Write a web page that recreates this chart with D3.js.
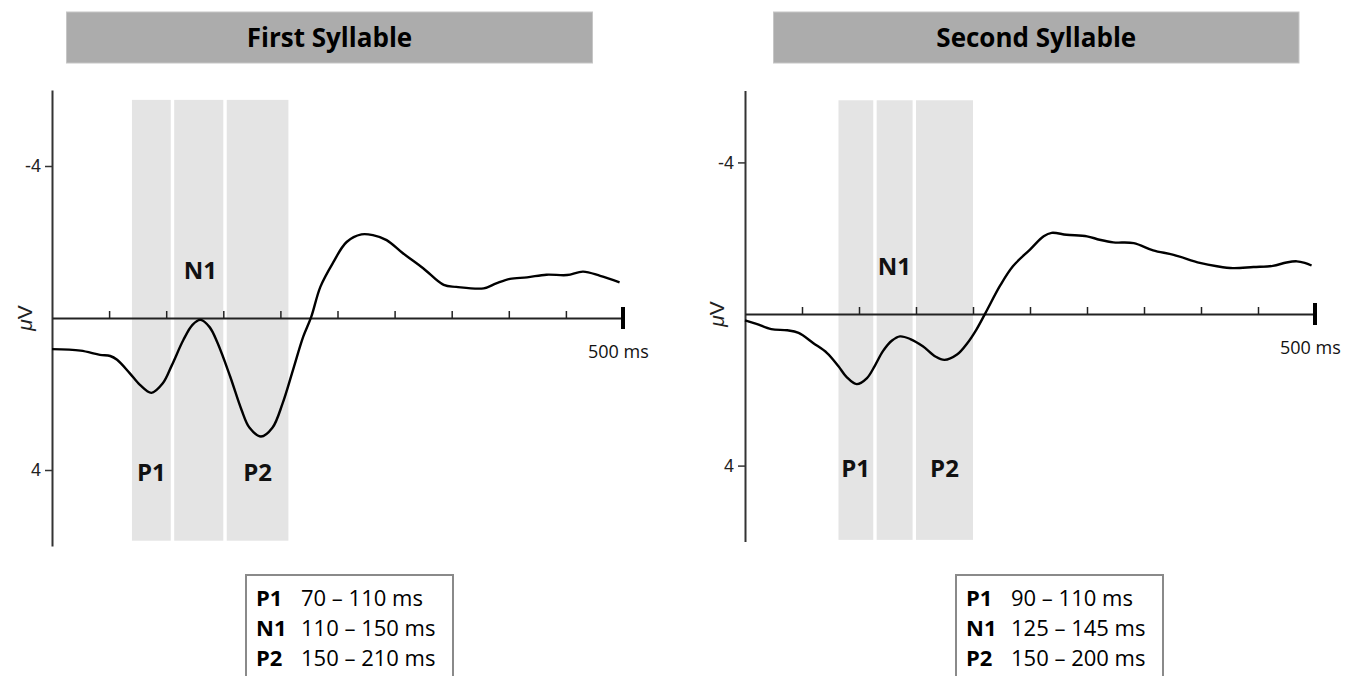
<!DOCTYPE html>
<html>
<head>
<meta charset="utf-8">
<script src="https://cdn.jsdelivr.net/npm/d3@7"></script>
<style>
  body { margin: 0; background: #fff; }
  svg { display: block; font-family: 'Open Sans', sans-serif; }
</style>
</head>
<body>
<script>
// ERP waveforms (ms, µV; positive is drawn downward)
const firstTime = [0, 25, 42, 51, 57, 68, 77, 87, 97, 105, 115, 123, 130, 138, 145, 156, 166, 173, 183, 193, 202, 211, 220, 227, 235, 246, 258, 271, 281, 293, 307, 325, 343, 354, 378, 389, 401, 416, 433, 451, 465, 480, 497]
const firstAmp = [0.82, 0.86, 0.97, 1.0, 1.1, 1.45, 1.76, 1.97, 1.72, 1.24, 0.58, 0.18, 0.05, 0.24, 0.66, 1.54, 2.42, 2.89, 3.12, 2.89, 2.24, 1.37, 0.49, -0.03, -0.82, -1.45, -2.0, -2.2, -2.18, -2.05, -1.71, -1.31, -0.87, -0.82, -0.78, -0.91, -1.03, -1.07, -1.14, -1.13, -1.22, -1.11, -0.94]

const secondTime = [0, 10, 23, 37, 47, 60, 72, 82, 89, 98, 107, 114, 121, 129, 136, 145, 156, 167, 175, 186, 195, 203, 211, 224, 235, 250, 262, 269, 282, 300, 311, 323, 341, 358, 376, 399, 414, 428, 446, 463, 475, 484, 491, 497]
const secondAmp = [0.17, 0.26, 0.40, 0.43, 0.50, 0.77, 1.03, 1.38, 1.66, 1.85, 1.69, 1.36, 0.98, 0.70, 0.59, 0.66, 0.85, 1.12, 1.21, 1.07, 0.77, 0.41, -0.03, -0.76, -1.26, -1.70, -2.05, -2.14, -2.09, -2.05, -1.96, -1.89, -1.87, -1.68, -1.56, -1.35, -1.26, -1.21, -1.24, -1.27, -1.36, -1.39, -1.35, -1.28]

const titles = ['First Syllable', 'Second Syllable']
const components = ['P1', 'N1', 'P2']
const firstWindows = ['70 – 110 ms', '110 – 150 ms', '150 – 210 ms']
const secondWindows = ['90 – 110 ms', '125 – 145 ms', '150 – 200 ms']

// grey bands as drawn (ms)
const firstShadeStart = [70, 107, 153]
const firstShadeEnd = [104, 150, 207]
const secondShadeStart = [82, 115.5, 150]
const secondShadeEnd = [112.5, 147, 200]

const yTicks = [-4, 4]
const xTicks = [50, 100, 150, 200, 250, 300, 350, 400, 450]
const xEnd = 500

// layout per panel
const panels = [
    {
        title: titles[0], time: firstTime, amp: firstAmp, windows: firstWindows,
        shadeStart: firstShadeStart, shadeEnd: firstShadeEnd,
        xRange: [52, 623], yDomain: [-6, 6], yRange: [90, 546],
        bar: [66.5, 592.5], legendX: 246,
        labelMs: [87, 130, 180], shadeV: [-5.74, 5.86], unitX: 32
    },
    {
        title: titles[1], time: secondTime, amp: secondAmp, windows: secondWindows,
        shadeStart: secondShadeStart, shadeEnd: secondShadeEnd,
        xRange: [745, 1315], yDomain: [-5.9, 6], yRange: [90.4, 541.4],
        bar: [773.5, 1299], legendX: 956,
        labelMs: [97, 131, 175], shadeV: [-5.64, 5.96], unitX: 724
    }
]

const svg = d3.select('body').append('svg')
    .attr('width', 1346)
    .attr('height', 676)

panels.forEach(drawPanel)

function drawPanel(p) {
    const x = d3.scaleLinear().domain([0, xEnd]).range(p.xRange)
    const y = d3.scaleLinear().domain(p.yDomain).range(p.yRange)
    const g = svg.append('g')

    // title bar
    g.append('rect')
        .attr('x', p.bar[0])
        .attr('y', 12)
        .attr('width', p.bar[1] - p.bar[0])
        .attr('height', 51)
        .attr('fill', '#acacac')
        .attr('stroke', '#c6c6c6')
        .attr('stroke-width', 1)
    g.append('text')
        .attr('x', (p.bar[0] + p.bar[1]) / 2)
        .attr('y', 47)
        .attr('text-anchor', 'middle')
        .attr('font-size', 26)
        .attr('font-weight', 700)
        .attr('fill', '#000')
        .text(p.title)

    // component windows
    g.selectAll('rect.win')
        .data(components)
        .enter().append('rect')
        .attr('class', 'win')
        .attr('x', (d, i) => x(p.shadeStart[i]))
        .attr('width', (d, i) => x(p.shadeEnd[i]) - x(p.shadeStart[i]))
        .attr('y', y(p.shadeV[0]))
        .attr('height', y(p.shadeV[1]) - y(p.shadeV[0]))
        .attr('fill', '#e4e4e4')

    // component labels: N1 above, P1/P2 below
    g.selectAll('text.comp')
        .data(components)
        .enter().append('text')
        .attr('class', 'comp')
        .attr('x', (d, i) => x(p.labelMs[i]))
        .attr('y', d => d === 'N1' ? y(-1.03) : y(4.3))
        .attr('text-anchor', 'middle')
        .attr('font-size', 24)
        .attr('font-weight', 700)
        .attr('fill', '#111')
        .text(d => d)

    // y axis
    const yAxis = d3.axisLeft(y)
        .tickValues(yTicks)
        .tickSize(7)
        .tickSizeOuter(0)
        .tickPadding(4)
        .tickFormat(d => String(d))

    const gy = g.append('g')
        .attr('transform', `translate(${p.xRange[0]},0)`)
        .call(yAxis)
    gy.select('.domain').attr('stroke', '#333').attr('stroke-width', 2)
    gy.selectAll('.tick line').attr('stroke', '#333').attr('stroke-width', 1.5)
    gy.selectAll('.tick text')
        .style('font-family', "'Liberation Sans', Arial, sans-serif")
        .style('font-size', '18px')
        .attr('fill', '#222')

    // x axis at 0 µV, ticks pointing up
    const xAxis = d3.axisBottom(x)
        .tickValues(xTicks)
        .tickSize(-7)
        .tickSizeOuter(0)
        .tickFormat('')

    const gx = g.append('g')
        .attr('transform', `translate(0,${y(0)})`)
        .call(xAxis)
    gx.select('.domain').attr('stroke', '#222').attr('stroke-width', 2)
    gx.selectAll('.tick line').attr('stroke', '#222').attr('stroke-width', 1.5)

    // end marker at 500 ms
    g.append('line')
        .attr('x1', x(xEnd)).attr('x2', x(xEnd))
        .attr('y1', y(0) - 11).attr('y2', y(0) + 11)
        .attr('stroke', '#000')
        .attr('stroke-width', 4)
    g.append('text')
        .attr('x', x(xEnd) - 35)
        .attr('y', y(0) + 40)
        .attr('font-size', 18)
        .attr('fill', '#111')
        .text('500 ms')

    // µV unit
    const unit = g.append('text')
        .attr('transform', `translate(${p.unitX},${y(0)}) rotate(-90)`)
        .attr('text-anchor', 'middle')
        .attr('font-family', "'Liberation Sans', Arial, sans-serif")
        .attr('font-size', 21)
        .attr('fill', '#222')
    unit.append('tspan').attr('font-style', 'italic').text('μ')
    unit.append('tspan').text('V')

    // waveform
    const line = d3.line()
        .x(d => x(d[0]))
        .y(d => y(d[1]))
        .curve(d3.curveCatmullRom.alpha(0.5))

    g.append('path')
        .datum(d3.zip(p.time, p.amp))
        .attr('d', line)
        .attr('fill', 'none')
        .attr('stroke', '#000')
        .attr('stroke-width', 2.4)

    // legend box with latency windows
    const lg = g.append('g')
    lg.append('rect')
        .attr('x', p.legendX)
        .attr('y', 575)
        .attr('width', 207)
        .attr('height', 130)
        .attr('fill', '#fff')
        .attr('stroke', '#8a8a8a')
        .attr('stroke-width', 2)

    const rows = lg.selectAll('text.row')
        .data(components)
        .enter().append('text')
        .attr('class', 'row')
        .attr('y', (d, i) => 606 + i * 30)
        .attr('font-size', 22)
        .attr('fill', '#000')
    rows.append('tspan')
        .attr('x', p.legendX + 10)
        .attr('font-weight', 700)
        .text(d => d)
    rows.append('tspan')
        .attr('x', p.legendX + 55)
        .text((d, i) => p.windows[i])
}
</script>
</body>
</html>
